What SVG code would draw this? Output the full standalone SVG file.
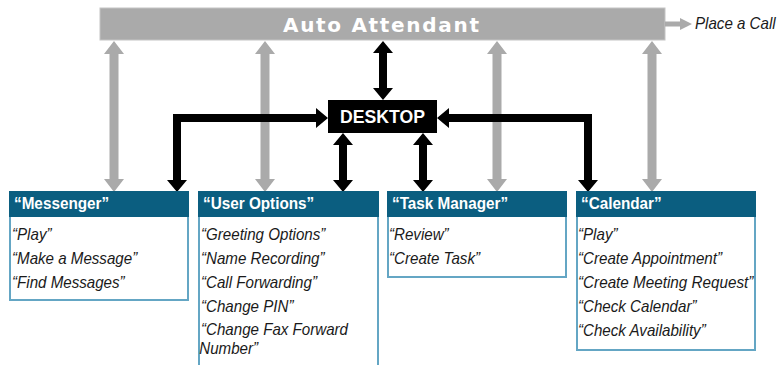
<svg xmlns="http://www.w3.org/2000/svg" width="779" height="365" viewBox="0 0 779 365">
<style>
.gray{fill:#aaaaaa}
.blk{fill:#000}
.box{fill:#fff;stroke:#64a6c4;stroke-width:2}
.hdr{fill:#0b5e80}
.ht{font-family:"Liberation Sans",Arial,sans-serif;font-weight:bold;font-size:17px;fill:#fff}
.it{font-family:"Liberation Sans",Arial,sans-serif;font-style:italic;font-size:17px;fill:#1a1a1a}
</style>
<rect width="779" height="365" fill="#fff"/>
<g id="auto-attendant">
<rect x="100" y="8" width="565" height="32" fill="#aaaaaa" stroke="#c4c4c4" stroke-width="1"/>
<text x="381.5" y="32" text-anchor="middle" font-family="DejaVu Sans,Verdana,sans-serif" font-weight="bold" font-size="20" fill="#fff" letter-spacing="1" textLength="197">Auto Attendant</text>
</g>
<g id="place-a-call" transform="translate(695,29) scale(0.89,1)">
<text x="0" y="0" class="it">Place a Call</text>
</g>
<g id="desktop">
<rect x="328" y="100" width="109" height="33" fill="#000"/>
<text x="382.5" y="123" text-anchor="middle" font-family="Liberation Sans,Arial,sans-serif" font-weight="bold" font-size="18" fill="#fff" textLength="85" lengthAdjust="spacingAndGlyphs">DESKTOP</text>
</g>
<g id="connectors">
<polygon class="gray" points="665,21.5 680,21.5 680,18 692,24 680,30 680,26.5 665,26.5"/>
<polygon class="gray" points="114,41 124,54 118.5,54 118.5,179 124,179 114,192 104,179 109.5,179 109.5,54 104,54"/>
<polygon class="gray" points="265,41 275,54 269.5,54 269.5,179 275,179 265,192 255,179 260.5,179 260.5,54 255,54"/>
<polygon class="gray" points="497,41 507,54 501.5,54 501.5,179 507,179 497,192 487,179 492.5,179 492.5,54 487,54"/>
<polygon class="gray" points="652,41 662,54 656.5,54 656.5,179 662,179 652,192 642,179 647.5,179 647.5,54 642,54"/>
<polygon class="blk" points="383,41 393,53 387,53 387,88 393,88 383,100 373,88 379,88 379,53 373,53"/>
<polygon class="blk" points="343,133 353,145 347,145 347,180 353,180 343,192 333,180 339,180 339,145 333,145"/>
<polygon class="blk" points="423,133 433,145 427,145 427,180 433,180 423,192 413,180 419,180 419,145 413,145"/>
<polygon class="blk" points="328,118 316,108 316,114 173,114 173,180 167,180 177,192 187,180 181,180 181,122 316,122 316,128"/>
<polygon class="blk" points="437,118 449,108 449,114 592,114 592,180 598,180 588,192 578,180 584,180 584,122 449,122 449,128"/>
</g>
<g id="messenger">
<rect class="box" x="10" y="192" width="178" height="108"/>
<rect class="hdr" x="9" y="191" width="180" height="26"/>
<text class="ht" transform="translate(14,209) scale(0.9,1)">“Messenger”</text>
<g transform="translate(12,0) scale(0.89,1)">
<text class="it" x="0" y="240">“Play”</text>
<text class="it" x="0" y="264">“Make a Message”</text>
<text class="it" x="0" y="288">“Find Messages”</text>
</g>
</g>
<g id="user-options">
<rect class="box" x="199" y="192" width="179" height="190"/>
<rect class="hdr" x="198" y="191" width="181" height="26"/>
<text class="ht" transform="translate(203,209) scale(0.9,1)">“User Options”</text>
<g transform="translate(201,0) scale(0.89,1)">
<text class="it" x="0" y="240">“Greeting Options”</text>
<text class="it" x="0" y="264">“Name Recording”</text>
<text class="it" x="0" y="288">“Call Forwarding”</text>
<text class="it" x="0" y="312">“Change PIN”</text>
<text class="it" x="0" y="335">“Change Fax Forward</text>
<text class="it" x="-2" y="354">Number”</text>
</g>
</g>
<g id="task-manager">
<rect class="box" x="388" y="192" width="178" height="85"/>
<rect class="hdr" x="387" y="191" width="180" height="26"/>
<text class="ht" transform="translate(392,209) scale(0.9,1)">“Task Manager”</text>
<g transform="translate(389,0) scale(0.89,1)">
<text class="it" x="0" y="240">“Review”</text>
<text class="it" x="0" y="264">“Create Task”</text>
</g>
</g>
<g id="calendar">
<rect class="box" x="577" y="192" width="178" height="158"/>
<rect class="hdr" x="576" y="191" width="180" height="26"/>
<text class="ht" transform="translate(581,209) scale(0.9,1)">“Calendar”</text>
<g transform="translate(578,0) scale(0.89,1)">
<text class="it" x="0" y="240">“Play”</text>
<text class="it" x="0" y="264">“Create Appointment”</text>
<text class="it" x="0" y="288" textLength="197" lengthAdjust="spacingAndGlyphs">“Create Meeting Request”</text>
<text class="it" x="0" y="312">“Check Calendar”</text>
<text class="it" x="0" y="336">“Check Availability”</text>
</g>
</g>
</svg>
